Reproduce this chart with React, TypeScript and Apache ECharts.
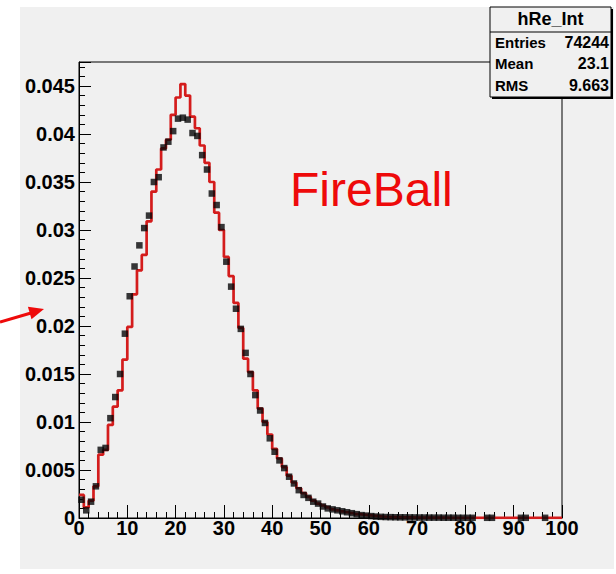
import React, { useEffect, useRef } from "react";
import * as echarts from "echarts";

// Bin layout: 100 bins of width 1 from 0 to 100
const X_MIN = 0;
const X_MAX = 100;
const Y_MAX = 0.0475;

// Measured distribution (black points), one value per bin
const dataValues: number[] = [
  0.0019, 0.0008, 0.0017, 0.0033, 0.0071, 0.0073, 0.0104, 0.0126, 0.015, 0.0192,
  0.0231, 0.0262, 0.0284, 0.0302, 0.0315, 0.035, 0.0355, 0.0386, 0.0392, 0.0403,
  0.0416, 0.0417, 0.0415, 0.0401, 0.0398, 0.0378, 0.0363, 0.0338, 0.0326, 0.0303,
  0.0267, 0.0241, 0.0218, 0.0197, 0.0172, 0.015, 0.0128, 0.0112, 0.0099, 0.0083,
  0.0069, 0.006, 0.0052, 0.0043, 0.0036, 0.0029, 0.0024, 0.0021, 0.0017, 0.0015,
  0.0012, 0.001, 0.0009, 0.0008, 0.0007, 0.0006, 0.0005, 0.0004, 0.0003, 0.00025,
  0.0002, 0.00015, 0.00012, 0.0001, 0.00009, 0.00008, 0.00007, 0.00007, 0.00006, 0.00006,
  0.00005, 0.00005, 0.00004, 0.00004, 0.00004, 0.00003, 0.00003, 0.00003, 0.00002, 0.00002,
  0.00002, 0.00002, 0, 0, 0.00002, 0.00002, 0, 0, 0, 0,
  0, 0.00002, 0.00002, 0, 0, 0, 0.00002, 0, 0, 0,
];

// FireBall model histogram (red steps), one value per bin
const modelValues: number[] = [
  0.0024, 0.0011, 0.0018, 0.0033, 0.0066, 0.0071, 0.0097, 0.0116, 0.0133, 0.0165,
  0.0199, 0.0233, 0.0258, 0.0274, 0.0309, 0.034, 0.0363, 0.0385, 0.0394, 0.042,
  0.0438, 0.0452, 0.044, 0.0418, 0.0406, 0.0388, 0.037, 0.035, 0.0318, 0.03,
  0.0272, 0.0252, 0.0224, 0.0198, 0.0166, 0.0152, 0.0133, 0.0114, 0.01, 0.0087,
  0.0072, 0.0062, 0.0053, 0.0044, 0.0037, 0.0031, 0.0026, 0.0022, 0.0018, 0.0015,
  0.0013, 0.0011, 0.0009, 0.0008, 0.0007, 0.0006, 0.0005, 0.0004, 0.00035, 0.0003,
  0.00025, 0.0002, 0.00015, 0.00012, 0.0001, 0.00009, 0.00008, 0.00007, 0.00006, 0.00005,
  0.00005, 0.00004, 0.00004, 0.00003, 0.00003, 0.00003, 0.00002, 0.00002, 0.00002, 0.00002,
  0.00002, 0.00001, 0.00001, 0.00001, 0.00001, 0.00001, 0.00001, 0.00001, 0.00001, 0.00001,
  0.00001, 0.00001, 0.00001, 0.00001, 0.00001, 0.00001, 0.00001, 0.00001, 0.00001, 0.00001,
];

// Statistics box contents
const statsTitle = "hRe_Int";
const statsLabels = ["Entries", "Mean", "RMS"];
const statsValues = ["74244", "23.1", "9.663"];

const annotation = "FireBall";

const FONT = "'Liberation Sans', Arial, Helvetica, sans-serif";
const RED = "#d41c1c";

export default function App() {
  const ref = useRef<HTMLDivElement>(null);

  useEffect(() => {
    if (!ref.current) return;
    const chart = echarts.init(ref.current, undefined, { renderer: "svg" });

    // Step line through the lower bin edges, closed at the upper edge of the last bin
    const modelLine: number[][] = modelValues.map((v, i) => [X_MIN + i, v]);
    modelLine.push([X_MAX, modelValues[modelValues.length - 1]]);

    // Points at bin centres; empty bins carry no marker
    const points: number[][] = [];
    dataValues.forEach((v, i) => {
      if (v > 0) points.push([X_MIN + i + 0.5, v]);
    });

    const yLabel = (v: number) => {
      const k = v / 0.005;
      if (Math.abs(k - Math.round(k)) > 1e-6) return "";
      if (Math.abs(v) < 1e-9) return "0";
      return String(parseFloat(v.toFixed(3)));
    };

    const axisText = { color: "#000", fontFamily: FONT, fontWeight: "bold" as const, fontSize: 20 };

    // Stats box geometry
    const bx = 490, by = 7, bw = 121, bh = 90;

    const graphics: any[] = [
      // stats box shadow and body
      { type: "rect", z: 100, shape: { x: bx + 2, y: by + 2, width: bw, height: bh }, style: { fill: "#000" } },
      { type: "rect", z: 101, shape: { x: bx, y: by, width: bw, height: bh }, style: { fill: "#f0f0f0", stroke: "#000", lineWidth: 1 } },
      { type: "line", z: 102, shape: { x1: bx, y1: 32, x2: bx + bw, y2: 32 }, style: { stroke: "#000", lineWidth: 1 } },
      {
        type: "text", z: 103, x: bx + bw / 2, y: 19,
        style: { text: statsTitle, font: `bold 18px ${FONT}`, fill: "#000", align: "center", verticalAlign: "middle" },
      },
      // annotation text
      {
        type: "text", z: 50, x: 290, y: 189,
        style: { text: annotation, font: `48px ${FONT}`, fill: "#ee0a0a", align: "left", verticalAlign: "middle" },
      },
      // arrow pointing at the y axis
      { type: "line", z: 50, shape: { x1: 0, y1: 322, x2: 31, y2: 313 }, style: { stroke: "#ee0a0a", lineWidth: 3 } },
      {
        type: "polygon", z: 50,
        shape: { points: [[44, 309], [27.9, 306.8], [31.5, 319.2]] },
        style: { fill: "#ee0a0a" },
      },
    ];
    const rowY = [42, 63, 85];
    statsLabels.forEach((label, i) => {
      graphics.push({
        type: "text", z: 103, x: bx + 5, y: rowY[i],
        style: { text: label, font: `bold 15px ${FONT}`, fill: "#000", align: "left", verticalAlign: "middle" },
      });
      graphics.push({
        type: "text", z: 103, x: bx + bw - 2, y: rowY[i],
        style: { text: statsValues[i], font: `bold 16px ${FONT}`, fill: "#000", align: "right", verticalAlign: "middle" },
      });
    });

    chart.setOption({
      animation: false,
      grid: {
        left: 79, top: 62, width: 483, height: 456,
        show: true, borderColor: "#000", borderWidth: 1, backgroundColor: "transparent",
        containLabel: false,
      },
      xAxis: {
        type: "value", min: X_MIN, max: X_MAX, interval: 10,
        axisLine: { show: true, onZero: false, lineStyle: { color: "#000", width: 1 } },
        axisTick: { show: true, inside: true, length: 13, lineStyle: { color: "#000", width: 1 } },
        minorTick: { show: true, splitNumber: 5, length: 6, lineStyle: { color: "#000", width: 1 } },
        splitLine: { show: false },
        axisLabel: { ...axisText, margin: 0 },
      },
      yAxis: {
        type: "value", min: 0, max: Y_MAX, interval: 0.005,
        axisLine: { show: true, onZero: false, lineStyle: { color: "#000", width: 1 } },
        axisTick: { show: true, inside: true, length: 12, lineStyle: { color: "#000", width: 1 } },
        minorTick: { show: true, splitNumber: 5, length: 6, lineStyle: { color: "#000", width: 1 } },
        splitLine: { show: false },
        axisLabel: { ...axisText, margin: 4, formatter: yLabel },
      },
      series: [
        {
          type: "line", step: "end", data: modelLine, showSymbol: false, z: 2,
          lineStyle: { color: RED, width: 2.7 }, itemStyle: { color: RED },
        },
        {
          type: "scatter", data: points, symbol: "rect", symbolSize: 6.5, z: 3,
          itemStyle: { color: "#060608" },
        },
      ],
      graphic: graphics,
    });

    return () => chart.dispose();
  }, []);

  return (
    <div style={{ position: "fixed", left: 0, top: 0, width: 616, height: 574, background: "#ffffff" }}>
      <div style={{ position: "absolute", left: 20, top: 7, width: 594, height: 562, background: "#f0f0f0" }} />
      <div ref={ref} style={{ position: "absolute", left: 0, top: 0, width: 616, height: 574 }} />
    </div>
  );
}
